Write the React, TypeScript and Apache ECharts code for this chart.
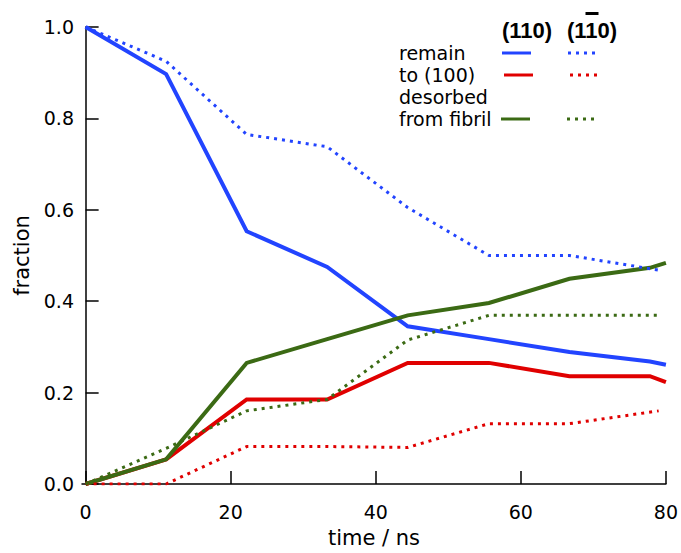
import React, { useEffect, useRef } from "react";
import * as echarts from "echarts";

const timeSolid = [0, 11.1, 22.2, 33.3, 44.4, 55.6, 66.7, 77.8, 80];
const timeDotted = [0, 11.1, 22.2, 33.3, 44.4, 55.6, 66.7, 79];

const remain110 = [1.0, 0.897, 0.553, 0.475, 0.345, 0.317, 0.289, 0.268, 0.261];
const to100_110 = [0, 0.054, 0.185, 0.185, 0.265, 0.265, 0.236, 0.236, 0.223];
const desorbed110 = [0, 0.054, 0.265, 0.317, 0.369, 0.396, 0.449, 0.473, 0.484];

const remain1b10 = [1.0, 0.925, 0.765, 0.738, 0.605, 0.5, 0.5, 0.468];
const to100_1b10 = [0, 0, 0.082, 0.082, 0.08, 0.132, 0.132, 0.16];
const desorbed1b10 = [0, 0.078, 0.16, 0.185, 0.315, 0.369, 0.369, 0.369];

const xTicks = [0, 20, 40, 60, 80];
const legendLabels = ["remain", "to (100)", "desorbed", "from fibril"];

const BLUE = "#2244ff";
const RED = "#e00000";
const GREEN = "#3b6a14";

const pair = (xs: number[], ys: number[]) => xs.map((x, i) => [x, ys[i]]);

export default function App() {
  const ref = useRef<HTMLDivElement>(null);
  useEffect(() => {
    if (!ref.current) return;
    const chart = echarts.init(ref.current, null, { renderer: "svg" });
    const font = "DejaVu Sans";
    const solid = (name: string, data: number[], color: string) => ({
      name,
      type: "line",
      data: pair(timeSolid, data),
      symbol: "none",
      lineStyle: { color, width: 4, type: "solid", join: "miter" },
      z: 2,
    });
    const dotted = (name: string, data: number[], color: string) => ({
      name,
      type: "line",
      data: pair(timeDotted, data),
      symbol: "none",
      lineStyle: { color, width: 3, type: [3, 5], cap: "butt" },
      z: 3,
    });
    const legendRowsY = [53, 75, 97, 119];
    chart.setOption({
      animation: false,
      backgroundColor: "#ffffff",
      grid: { left: 82, right: 15, top: 27, bottom: 62, containLabel: false },
      xAxis: {
        type: "value",
        min: -0.5,
        max: 80,
        axisLine: { show: true, lineStyle: { color: "#000", width: 1.5 } },
        axisTick: { show: true, inside: true, length: 13, customValues: xTicks, lineStyle: { color: "#000", width: 1.5 } },
        axisLabel: { customValues: xTicks, margin: 18, fontSize: 19, color: "#000", fontFamily: font },
        splitLine: { show: false },
        name: "time / ns",
        nameLocation: "middle",
        nameGap: 43,
        nameTextStyle: { fontSize: 21, color: "#000", fontFamily: font },
      },
      yAxis: {
        type: "value",
        min: 0,
        max: 1,
        interval: 0.2,
        axisLine: { show: true, lineStyle: { color: "#000", width: 1.5 } },
        axisTick: { show: true, inside: true, length: 13, lineStyle: { color: "#000", width: 1.5 } },
        axisLabel: {
          margin: 8,
          fontSize: 19,
          color: "#000",
          fontFamily: font,
          formatter: (v: number) => v.toFixed(1),
        },
        splitLine: { show: false },
        name: "fraction",
        nameLocation: "middle",
        nameGap: 48,
        nameTextStyle: { fontSize: 21, color: "#000", fontFamily: font },
      },
      series: [
        solid("remain (110)", remain110, BLUE),
        solid("to (100) (110)", to100_110, RED),
        solid("desorbed from fibril (110)", desorbed110, GREEN),
        dotted("remain (1-10)", remain1b10, BLUE),
        dotted("to (100) (1-10)", to100_1b10, RED),
        dotted("desorbed from fibril (1-10)", desorbed1b10, GREEN),
      ],
      graphic: [
        {
          type: "text",
          x: 502,
          y: 30,
          style: { text: "(110)", fontSize: 22, fontWeight: "bold", fontFamily: "Liberation Sans", fill: "#000", verticalAlign: "middle" },
        },
        {
          type: "text",
          x: 567,
          y: 30,
          style: { text: "(110)", fontSize: 22, fontWeight: "bold", fontFamily: "Liberation Sans", fill: "#000", verticalAlign: "middle" },
        },
        { type: "rect", shape: { x: 585.5, y: 12, width: 13, height: 3 }, style: { fill: "#000" } },
        ...legendLabels.map((t, i) => ({
          type: "text",
          x: 399,
          y: legendRowsY[i],
          style: { text: t, fontSize: 19, fontFamily: font, fill: "#000", verticalAlign: "middle", align: "left" },
        })),
        { type: "line", shape: { x1: 502, y1: 53, x2: 531, y2: 53 }, style: { stroke: BLUE, lineWidth: 3 } },
        { type: "line", shape: { x1: 504, y1: 75, x2: 533, y2: 75 }, style: { stroke: RED, lineWidth: 3 } },
        { type: "line", shape: { x1: 501, y1: 119, x2: 530, y2: 119 }, style: { stroke: GREEN, lineWidth: 3 } },
        { type: "line", shape: { x1: 568, y1: 53, x2: 598, y2: 53 }, style: { stroke: BLUE, lineWidth: 3, lineDash: [3, 5] } },
        { type: "line", shape: { x1: 570, y1: 75, x2: 600, y2: 75 }, style: { stroke: RED, lineWidth: 3, lineDash: [3, 5] } },
        { type: "line", shape: { x1: 567, y1: 119, x2: 597, y2: 119 }, style: { stroke: GREEN, lineWidth: 3, lineDash: [3, 5] } },
      ],
    });
    return () => chart.dispose();
  }, []);
  return (
    <div
      ref={ref}
      style={{ position: "fixed", left: 0, top: 0, width: 681, height: 553 }}
    />
  );
}
